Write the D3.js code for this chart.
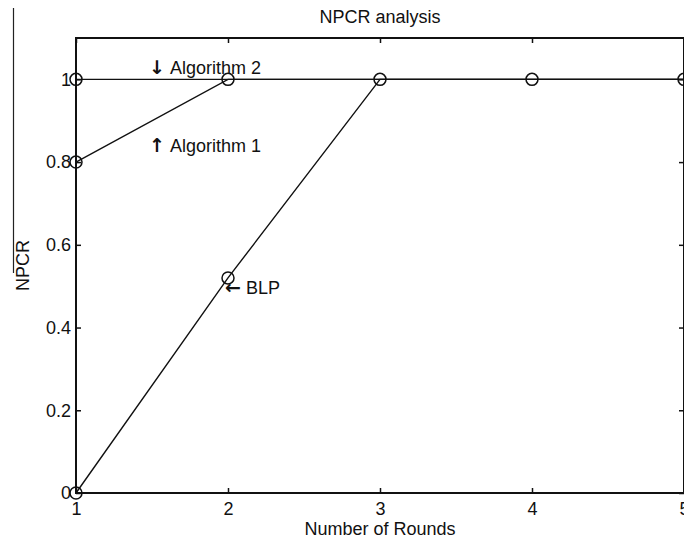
<!DOCTYPE html>
<html>
<head>
<meta charset="utf-8">
<script src="https://cdn.jsdelivr.net/npm/d3@7"></script>
<style>
  body { margin: 0; background: #fff; }
  svg { display: block; font-family: "Liberation Sans", Arial, sans-serif; }
</style>
</head>
<body>
<script>
// data
var rounds = [1, 2, 3, 4, 5];
var alg1 = [0.8, 1, 1, 1, 1];
var alg2 = [1, 1, 1, 1, 1];
var blp = [0, 0.52, 1, 1, 1];
var yTicks = [0, 0.2, 0.4, 0.6, 0.8, 1];
var xTicks = [1, 2, 3, 4, 5];

var w = 684, h = 540;
var pLeft = 76, pRight = 684, pTop = 38, pBottom = 493;
var fs = '18px';

var svg = d3.select('body')
    .append('svg')
    .attr('width', w)
    .attr('height', h);

var x = d3.scaleLinear()
    .domain([1, 5])
    .range([pLeft, pRight]);
var y = d3.scaleLinear()
    .domain([0, 1.1])
    .range([pBottom, pTop]);

// stray page border on the left
svg.append('line')
    .attr('x1', 13.5).attr('x2', 13.5)
    .attr('y1', 8).attr('y2', 273)
    .style('stroke', '#222')
    .style('stroke-width', 1.2);

// frame
svg.append('rect')
    .attr('x', pLeft)
    .attr('y', pTop)
    .attr('width', pRight - pLeft)
    .attr('height', pBottom - pTop)
    .style('fill', 'none')
    .style('stroke', '#111')
    .style('stroke-width', 2);

function styleAxis(g) {
    g.select('.domain').remove();
    g.selectAll('.tick line').style('stroke', '#111').style('stroke-width', 1.5);
    g.selectAll('.tick text')
        .style('font-size', fs)
        .style('fill', '#111')
        .style('font-family', '"Liberation Sans", Arial, sans-serif');
}

var fmt = function(d) { return String(d); };

svg.append('g')
    .attr('transform', 'translate(0,' + pBottom + ')')
    .call(d3.axisBottom(x).tickValues(xTicks).tickFormat(fmt)
        .tickSizeInner(-5).tickSizeOuter(0).tickPadding(9))
    .call(styleAxis);

svg.append('g')
    .attr('transform', 'translate(0,' + pTop + ')')
    .call(d3.axisTop(x).tickValues(xTicks).tickFormat('')
        .tickSizeInner(-5).tickSizeOuter(0))
    .call(styleAxis);

svg.append('g')
    .attr('transform', 'translate(' + pLeft + ',0)')
    .call(d3.axisLeft(y).tickValues(yTicks).tickFormat(fmt)
        .tickSizeInner(-5).tickSizeOuter(0).tickPadding(5))
    .call(styleAxis);

svg.append('g')
    .attr('transform', 'translate(' + pRight + ',0)')
    .call(d3.axisRight(y).tickValues(yTicks).tickFormat('')
        .tickSizeInner(-5).tickSizeOuter(0))
    .call(styleAxis);

// series
var series = [alg2, alg1, blp];
var line = d3.line()
    .x(function(d, i) { return x(rounds[i]); })
    .y(function(d) { return y(d); });

svg.selectAll('.series')
    .data(series)
    .enter()
    .append('path')
    .attr('class', 'series')
    .attr('d', line)
    .style('fill', 'none')
    .style('stroke', '#111')
    .style('stroke-width', 1.4);

// markers, one per distinct point so overlaps don't darken
var pts = [];
var seen = {};
series.forEach(function(s) {
    s.forEach(function(v, i) {
        var key = rounds[i] + ':' + v;
        if (!seen[key]) {
            seen[key] = true;
            pts.push({ r: rounds[i], v: v });
        }
    });
});
svg.selectAll('.marker')
    .data(pts)
    .enter()
    .append('circle')
    .attr('class', 'marker')
    .attr('cx', function(d) { return x(d.r); })
    .attr('cy', function(d) { return y(d.v); })
    .attr('r', 6)
    .style('fill', 'none')
    .style('stroke', '#111')
    .style('stroke-width', 1.5);

// annotations: arrow glyph + label
var notes = [
    { arrow: '\u2193', text: 'Algorithm 2', x: 149, y: 74 },
    { arrow: '\u2191', text: 'Algorithm 1', x: 149, y: 152 },
    { arrow: '\u2190', text: 'BLP', x: 225, y: 294 }
];
var noteText = svg.selectAll('.note')
    .data(notes)
    .enter()
    .append('text')
    .attr('class', 'note')
    .attr('x', function(d) { return d.x; })
    .attr('y', function(d) { return d.y; })
    .style('font-size', fs)
    .style('fill', '#111');
noteText.append('tspan')
    .style('font-family', '"DejaVu Sans", sans-serif')
    .style('font-size', '19px')
    .style('font-weight', 'bold')
    .text(function(d) { return d.arrow; });
noteText.append('tspan')
    .attr('dx', 5)
    .text(function(d) { return d.text; });

// titles
svg.append('text')
    .attr('x', (pLeft + pRight) / 2)
    .attr('y', 23)
    .attr('text-anchor', 'middle')
    .style('font-size', fs)
    .style('fill', '#111')
    .text('NPCR analysis');

svg.append('text')
    .attr('x', (pLeft + pRight) / 2)
    .attr('y', 535)
    .attr('text-anchor', 'middle')
    .style('font-size', fs)
    .style('fill', '#111')
    .text('Number of Rounds');

svg.append('text')
    .attr('transform', 'translate(29,' + ((pTop + pBottom) / 2) + ') rotate(-90)')
    .attr('text-anchor', 'middle')
    .style('font-size', fs)
    .style('fill', '#111')
    .text('NPCR');
</script>
</body>
</html>
